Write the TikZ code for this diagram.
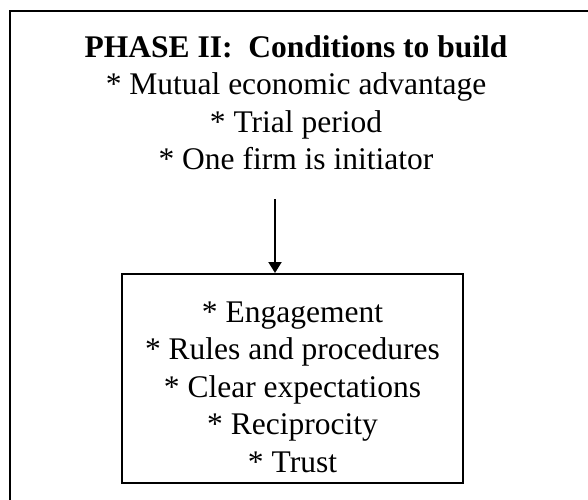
\documentclass[tikz,border=0pt]{standalone}
\usepackage{fontspec}
\setmainfont{Liberation Serif}
\usetikzlibrary{arrows.meta}
\tikzset{
  list/.style={align=center, font=\fontsize{31.5}{37.5}\selectfont},
  frame/.style={draw, line width=2pt},
}
\begin{document}
\begin{tikzpicture}[x=1pt,y=-1pt]
\useasboundingbox (0,0) rectangle (588,499);
% outer frame, runs off to the right and below
\draw[line width=2.5pt] (10,530) -- (10,11) -- (610,11);
\node[list, anchor=north] (cond) at (296,32) {\textbf{PHASE II:\ \ Conditions to build}\\
  * Mutual economic advantage\\ * Trial period\\ * One firm is initiator};
\node[list, frame, minimum width=341pt, minimum height=209pt] (rel) at (292.5,378.5) {\rule{0pt}{38pt}* Engagement\\
  * Rules and procedures\\ * Clear expectations\\ * Reciprocity\\ * Trust};
\coordinate (tail) at (275,199);
\draw[line width=2pt, -{Triangle[length=11pt,width=13pt]}] (tail) -- (tail |- rel.north);
\end{tikzpicture}
\end{document}
